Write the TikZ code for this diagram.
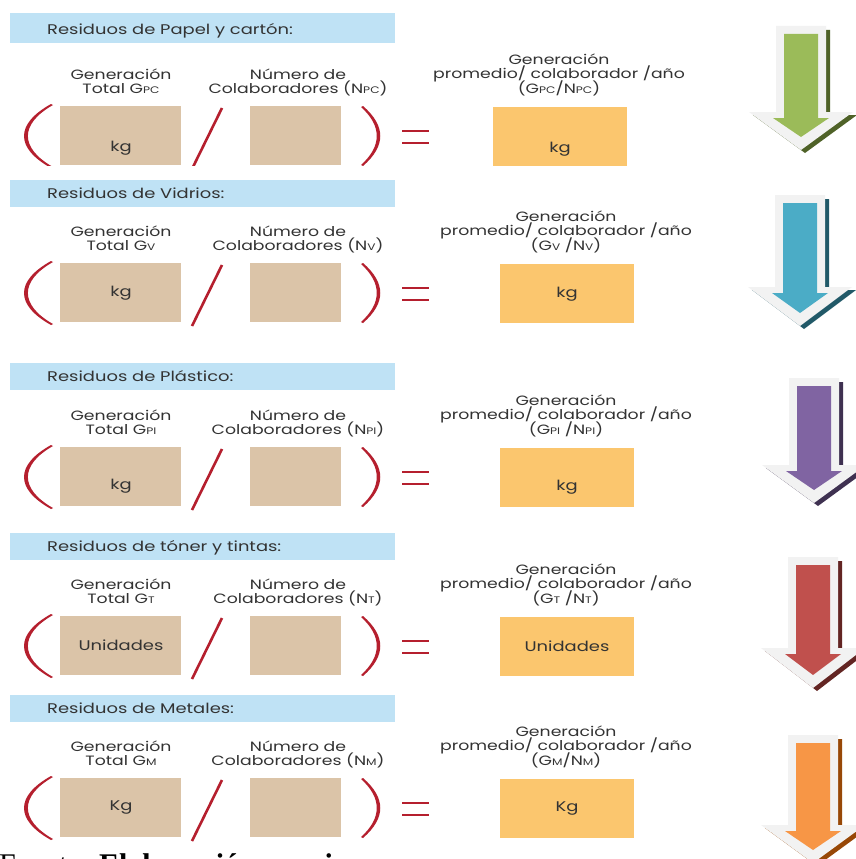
\documentclass[tikz,border=0pt]{standalone}
\usepackage{fontspec}
\setmainfont{Poppins}[FakeStretch=1.28]
\newfontfamily\timesf{Liberation Serif}
\definecolor{hdrblue}{HTML}{BFE2F5}
\definecolor{beige}{HTML}{DBC4A8}
\definecolor{orbox}{HTML}{FBC66E}
\definecolor{parred}{HTML}{B51F2E}
\definecolor{txt}{HTML}{333333}
\definecolor{arrlight}{HTML}{F2F2F2}
\definecolor{gfill}{HTML}{9BBB59}\definecolor{gdark}{HTML}{4F6228}
\definecolor{bfill}{HTML}{4BACC6}\definecolor{bdark}{HTML}{215968}
\definecolor{pfill}{HTML}{8064A2}\definecolor{pdark}{HTML}{3F3151}
\definecolor{rfill}{HTML}{C0504D}\definecolor{rdark}{HTML}{632523}
\definecolor{ofill}{HTML}{F79646}\definecolor{odark}{HTML}{984807}
\newcommand\sm[1]{{\fontsize{9.5}{9.5}\selectfont #1}}
\tikzset{
  lbl/.style={anchor=base, inner sep=0, text=txt, font=\fontsize{13.5}{13.5}\selectfont},
  rlbl/.style={anchor=base, inner sep=0, text=txt, font=\fontsize{13.5}{13.5}\selectfont},
  hdrtxt/.style={anchor=base west, inner sep=0, text=txt, font=\fontsize{14}{14}\selectfont},
  unit/.style={inner sep=0, text=txt, font=\fontsize{14}{14}\selectfont},
  hdr/.style={fill=hdrblue, inner sep=0, minimum width=385, anchor=north west},
  beigebox/.style={fill=beige, inner sep=0, anchor=north west},
  orangebox/.style={fill=orbox, inner sep=0, anchor=north west},
  eqline/.style={draw=parred, line width=2.4},
  slashline/.style={draw=parred, line width=2.6},
}
\newcommand\rx{500}
\newcommand\rc{566}
\newcommand\hh{27}
\newcommand\ho{18}
% #1 box top, #2 header top, #3 header text, #4 sub, #5 left unit, #6 right unit, #7 unit y offset, #8 formula
\newcommand\seccion[8]{%
  \node[hdr, minimum height=\hh] (h#1) at (10,#2) {};
  \node[hdrtxt] (ht#1) at (47,{#2+\ho}) {#3};
  \node[lbl] (ga#1) at (121,{#1-27}) {Generación};
  \node[lbl] (gb#1) at (121,{#1-13}) {Total G\sm{#4}};
  \node[lbl] (na#1) at (298,{#1-27}) {Número de};
  \node[lbl] (nb#1) at (298,{#1-13}) {Colaboradores (N\sm{#4})};
  \node[beigebox, minimum width=121, minimum height=59] (lb#1) at (60,#1) {};
  \node[unit] (lu#1) at (121,{#1+#7}) {#5};
  \node[beigebox, minimum width=91, minimum height=59] (mb#1) at (250,#1) {};
  \fill[parred] (51,{#1-2}) .. controls (15,{#1+18}) and (15,{#1+42}) .. (51,{#1+62})
     -- (53,{#1+61}) .. controls (19.5,{#1+42}) and (19.5,{#1+18}) .. (53,{#1-1}) -- cycle;
  \fill[parred] (363,{#1}) .. controls (386,{#1+20}) and (386,{#1+40}) .. (363,{#1+60})
     -- (361,{#1+59}) .. controls (382,{#1+40}) and (382,{#1+20}) .. (361,{#1+1}) -- cycle;
  \draw[slashline] (192,{#1+63}) -- (222,{#1+2});
  \draw[eqline] (402,{#1+25}) -- (429,{#1+25});
  \draw[eqline] (402,{#1+37}) -- (429,{#1+37});
  \node[rlbl] (ra#1) at (\rc,{#1-42}) {Generación};
  \node[rlbl] (rb#1) at (\rc,{#1-27.5}) {promedio/ colaborador /año};
  \node[rlbl] (rf#1) at (\rc,{#1-13}) {#8};
  \node[orangebox, minimum width=134, minimum height=59] (ob#1) at (\rx,{#1+1}) {};
  \node[unit] (ou#1) at ({\rx+67},{#1+#7+1}) {#6};
}
% cx, top, head base, tip, fill, dark
\newcommand\bigarrow[6]{%
  \fill[#6] ({#1-25+4},{#2+4}) -- ({#1+25+4},{#2+4}) -- ({#1+25+4},{#3+3}) -- ({#1+52+4},{#3+3})
     -- ({#1+4},{#4+3}) -- ({#1-52+4},{#3+3}) -- ({#1-25+4},{#3+3}) -- cycle;
  \fill[arrlight] ({#1-25},{#2}) -- ({#1+25},{#2}) -- ({#1+25},{#3}) -- ({#1+52},{#3})
     -- ({#1},{#4}) -- ({#1-52},{#3}) -- ({#1-25},{#3}) -- cycle;
  \fill[#5] ({#1-17},{#2+8}) -- ({#1+17},{#2+8}) -- ({#1+17},{#3+6}) -- ({#1+28},{#3+6})
     -- ({#1},{#4-13}) -- ({#1-28},{#3+6}) -- ({#1-17},{#3+6}) -- cycle;
}
\begin{document}
\begin{tikzpicture}[x=1pt,y=-1pt]
\useasboundingbox (0,0) rectangle (855,859);
\fill[white] (0,0) rectangle (855,859);
\begingroup
\renewcommand\rx{493}\renewcommand\rc{559}\renewcommand\hh{30}\renewcommand\ho{22}
\seccion{106}{13}{Residuos de Papel y cartón:}{PC}{kg}{kg}{42}{(G\sm{PC}/N\sm{PC})}
\endgroup
\fill[white] (0,166) rectangle (740,178);
\seccion{263}{180}{Residuos de Vidrios:}{V}{kg}{kg}{30}{(G\sm{V} /N\sm{V})}
\seccion{447}{363}{Residuos de Plástico:}{PI}{kg}{kg}{39}{(G\sm{PI} /N\sm{PI})}
\seccion{616}{533}{Residuos de tóner y tintas:}{T}{Unidades}{Unidades}{29}{(G\sm{T} /N\sm{T})}
\seccion{778}{695}{Residuos de Metales:}{M}{Kg}{Kg}{30}{(G\sm{M}/N\sm{M})}
\bigarrow{801}{26}{112}{150}{gfill}{gdark}
\bigarrow{800}{195}{287}{326}{bfill}{bdark}
\bigarrow{814}{378}{465}{503}{pfill}{pdark}
\bigarrow{813}{557}{648}{688}{rfill}{rdark}
\bigarrow{813}{735}{825}{863}{ofill}{odark}
\node[anchor=base west, inner sep=0, font=\timesf\fontsize{30}{30}\selectfont] (src) at (-1,874) {Fuente: \textbf{Elaboración propia}};
\end{tikzpicture}
\end{document}
